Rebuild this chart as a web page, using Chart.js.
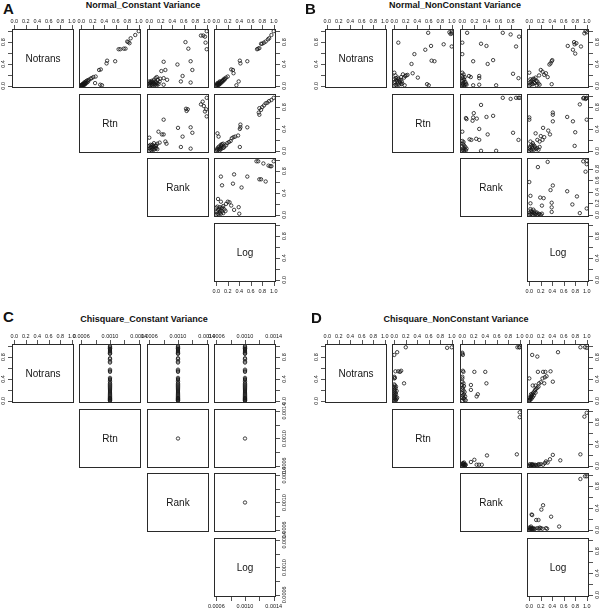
<!DOCTYPE html>
<html lang="en">

<head>
    <meta charset="UTF-8">
    <title>Pairs plots</title>
    <script src="https://cdn.jsdelivr.net/npm/chart.js"></script>
    <style>
        body {
            margin: 0;
            background: #fff;
        }

        #figure {
            position: relative;
            width: 600px;
            height: 609px;
            overflow: hidden;
            font-family: "Liberation Sans", Arial, sans-serif;
            color: #111;
        }

        #figure canvas {
            position: absolute;
        }

        .letter {
            position: absolute;
            font-weight: bold;
            font-size: 15px;
            line-height: 15px;
        }

        .title {
            position: absolute;
            font-weight: bold;
            font-size: 9px;
            line-height: 10px;
            white-space: nowrap;
            transform: translateX(-50%);
        }
    </style>
</head>

<body>
    <div id="figure"></div>

    <script>
        // variable names on the diagonal
        const varNames = ['Notrans', 'Rtn', 'Rank', 'Log'];

        // tick values / labels
        const unitTicks = [0, 0.2, 0.4, 0.6, 0.8, 1.0];
        const unitYLabels = [0, 0.4, 0.8];
        const rankBTicks = [0, 0.2, 0.4, 0.6, 0.8];
        const tinyTicks = [0.0006, 0.0008, 0.0010, 0.0012, 0.0014];
        const tinyLabels = [0.0006, 0.0010, 0.0014];

        // A: Normal_Constant Variance  (points are [column variable, row variable])
        const aNotransRtn = [[1.0, 1.0], [0.94, 0.93], [0.86, 0.87], [0.82, 0.80], [0.84, 0.78], [0.80, 0.81], [0.77, 0.68], [0.74, 0.68], [0.68, 0.67], [0.65, 0.67],
            [0.59, 0.45], [0.45, 0.46], [0.44, 0.41], [0.34, 0.30], [0.31, 0.29], [0.25, 0.17], [0.21, 0.16], [0.18, 0.14], [0.16, 0.13], [0.13, 0.11], [0.11, 0.10],
            [0.09, 0.09], [0.07, 0.07], [0.06, 0.05], [0.05, 0.06], [0.04, 0.04], [0.03, 0.03], [0.02, 0.03], [0.02, 0.01], [0.01, 0.02], [0.0, 0.0], [0.01, 0.0],
            [0.03, 0.01], [0.04, 0.02], [0.05, 0.03], [0.06, 0.02], [0.07, 0.04], [0.08, 0.05], [0.10, 0.06], [0.12, 0.08], [0.0, 0.01], [0.015, 0.005],
            [0.24, 0.05], [0.33, 0.02], [0.36, 0.01]];
        const aNotransRank = [[1.0, 1.0], [0.90, 0.92], [0.94, 0.92], [0.97, 0.90], [0.98, 0.79], [1.0, 0.67],
            [0.63, 0.80], [0.68, 0.68], [0.72, 0.45], [0.75, 0.29], [0.58, 0.18], [0.55, 0.08], [0.72, 0.06], [0.49, 0.39],
            [0.25, 0.44], [0.28, 0.29], [0.21, 0.27], [0.25, 0.14], [0.31, 0.11], [0.25, 0.02],
            [0.11, 0.14], [0.08, 0.11], [0.15, 0.11], [0.18, 0.08], [0.13, 0.16], [0.19, 0.13],
            [0.0, 0.0], [0.02, 0.01], [0.04, 0.02], [0.06, 0.01], [0.08, 0.03], [0.10, 0.02], [0.12, 0.04], [0.01, 0.05], [0.03, 0.06], [0.05, 0.04],
            [0.07, 0.06], [0.09, 0.05], [0.0, 0.03], [0.02, 0.07], [0.11, 0.07], [0.14, 0.05], [0.04, 0.09], [0.06, 0.08], [0.13, 0.01], [0.16, 0.03], [0.0, 0.08]];
        const aNotransLog = [[1.0, 1.0], [0.96, 0.93], [0.92, 0.87], [0.90, 0.85], [0.86, 0.81], [0.83, 0.79], [0.80, 0.77], [0.78, 0.77], [0.75, 0.69], [0.73, 0.68], [0.71, 0.67],
            [0.54, 0.45], [0.41, 0.46], [0.42, 0.41], [0.29, 0.29], [0.26, 0.30], [0.30, 0.23],
            [0.20, 0.17], [0.17, 0.15], [0.14, 0.13], [0.12, 0.11], [0.10, 0.09], [0.08, 0.07], [0.06, 0.05], [0.05, 0.06], [0.04, 0.03], [0.03, 0.04], [0.02, 0.02],
            [0.01, 0.01], [0.0, 0.0], [0.01, 0.03], [0.03, 0.01], [0.05, 0.02], [0.07, 0.04], [0.09, 0.06], [0.11, 0.08], [0.13, 0.10], [0.15, 0.12], [0.06, 0.08], [0.02, 0.05],
            [0.39, 0.08], [0.35, 0.01]];
        const aRtnRank = [[1.0, 0.97], [0.93, 0.90], [0.90, 0.85], [0.95, 0.82], [0.99, 0.76], [1.0, 0.63], [0.97, 0.72],
            [0.64, 0.77], [0.67, 0.76], [0.65, 0.73],
            [0.25, 0.57], [0.50, 0.42], [0.72, 0.43], [0.75, 0.33], [0.58, 0.26], [0.55, 0.07], [0.72, 0.04],
            [0.16, 0.35], [0.22, 0.30], [0.25, 0.30], [0.28, 0.17], [0.30, 0.13], [0.18, 0.15], [0.14, 0.13], [0.08, 0.14], [0.12, 0.10], [0.0, 0.24],
            [0.0, 0.0], [0.02, 0.02], [0.04, 0.01], [0.06, 0.03], [0.08, 0.02], [0.10, 0.04], [0.01, 0.05], [0.03, 0.07], [0.05, 0.06], [0.07, 0.08],
            [0.09, 0.07], [0.0, 0.09], [0.12, 0.05], [0.14, 0.03], [0.02, 0.11], [0.04, 0.10], [0.06, 0.11], [0.11, 0.09]];
        const aRtnLog = [[1.0, 0.97], [0.96, 0.93], [0.92, 0.91], [0.89, 0.88], [0.86, 0.87], [0.83, 0.83], [0.80, 0.80], [0.75, 0.78], [0.78, 0.75], [0.74, 0.70], [0.75, 0.66],
            [0.54, 0.43], [0.41, 0.40], [0.42, 0.43], [0.42, 0.48],
            [0.38, 0.28], [0.33, 0.26], [0.30, 0.25], [0.27, 0.23], [0.25, 0.18], [0.22, 0.16], [0.19, 0.14], [0.17, 0.10], [0.14, 0.08], [0.11, 0.05], [0.08, 0.03],
            [0.02, 0.32], [0.04, 0.26], [0.41, 0.07],
            [0.0, 0.0], [0.02, 0.01], [0.04, 0.03], [0.06, 0.04], [0.03, 0.06], [0.05, 0.08], [0.07, 0.06], [0.09, 0.09], [0.01, 0.03], [0.10, 0.12],
            [0.12, 0.13], [0.08, 0.11], [0.06, 0.01], [0.13, 0.06]];
        const aRankLog = [[0.70, 0.98], [0.73, 0.98], [0.82, 0.94], [0.91, 0.90], [0.94, 0.89], [0.96, 0.89], [1.0, 0.98],
            [0.75, 0.65], [0.78, 0.65], [0.86, 0.61],
            [0.31, 0.74], [0.54, 0.70], [0.08, 0.70], [0.10, 0.54], [0.29, 0.57], [0.44, 0.50],
            [0.03, 0.29], [0.08, 0.24], [0.20, 0.24], [0.23, 0.23], [0.26, 0.17], [0.17, 0.20], [0.12, 0.16],
            [0.39, 0.14], [0.40, 0.02], [0.31, 0.09],
            [0.0, 0.0], [0.02, 0.02], [0.04, 0.01], [0.06, 0.04], [0.08, 0.02], [0.10, 0.06], [0.12, 0.03], [0.01, 0.06], [0.03, 0.09], [0.05, 0.11],
            [0.07, 0.08], [0.09, 0.12], [0.0, 0.13], [0.14, 0.10], [0.16, 0.07], [0.02, 0.15], [0.06, 0.14], [0.11, 0.13]];

        // B: Normal_NonConstant Variance
        const bNotransRtn = [[1.0, 0.99], [1.0, 0.96], [0.98, 0.95], [0.96, 0.98], [0.59, 0.97], [0.07, 0.79], [1.0, 0.72], [0.86, 0.76], [0.64, 0.73], [0.54, 0.66],
            [0.35, 0.58], [0.65, 0.46], [0.70, 0.45], [0.30, 0.40], [0.32, 0.23], [0.41, 0.15], [0.57, 0.03], [0.60, 0.01], [0.14, 0.04], [0.18, 0.01],
            [0.0, 0.24], [0.15, 0.21], [0.19, 0.18], [0.21, 0.19], [0.23, 0.20], [0.17, 0.15], [0.12, 0.16], [0.02, 0.19],
            [0.0, 0.0], [0.02, 0.02], [0.04, 0.01], [0.06, 0.04], [0.08, 0.02], [0.10, 0.06], [0.01, 0.07], [0.03, 0.10], [0.05, 0.08], [0.07, 0.12],
            [0.09, 0.09], [0.11, 0.11], [0.0, 0.12], [0.13, 0.08], [0.12, 0.03], [0.03, 0.14], [0.06, 0.15]];
        const bNotransRank = [[0.08, 0.97], [0.67, 0.97], [0.80, 0.94], [0.94, 0.90], [0.0, 0.79], [0.31, 0.77], [0.40, 0.73], [0.89, 0.72], [0.0, 0.58],
            [0.18, 0.45], [0.51, 0.47], [0.42, 0.40], [0.93, 0.14], [0.84, 0.22], [0.11, 0.18], [0.14, 0.16], [0.28, 0.18], [0.28, 0.14],
            [0.18, 0.01], [0.56, 0.01], [0.28, 0.02],
            [0.0, 0.0], [0.01, 0.03], [0.02, 0.06], [0.0, 0.09], [0.03, 0.12], [0.01, 0.15], [0.0, 0.18], [0.02, 0.21], [0.04, 0.02], [0.05, 0.07],
            [0.03, 0.0], [0.06, 0.04], [0.0, 0.24], [0.02, 0.10], [0.04, 0.16], [0.01, 0.01], [0.07, 0.02]];
        const bNotransLog = [[1.0, 0.98], [0.98, 1.0], [0.96, 0.96], [0.78, 0.80], [0.82, 0.78], [0.79, 0.76], [0.90, 0.72], [0.67, 0.73], [0.76, 0.66], [0.80, 0.59],
            [0.39, 0.45], [0.40, 0.47], [0.37, 0.41], [0.35, 0.39],
            [0.0, 0.24], [0.20, 0.29], [0.23, 0.26], [0.29, 0.23], [0.26, 0.20], [0.32, 0.16], [0.17, 0.19], [0.39, 0.03],
            [0.0, 0.0], [0.02, 0.02], [0.04, 0.04], [0.06, 0.03], [0.08, 0.06], [0.10, 0.05], [0.12, 0.09], [0.14, 0.08], [0.01, 0.06], [0.03, 0.08],
            [0.05, 0.11], [0.07, 0.13], [0.09, 0.12], [0.11, 0.15], [0.13, 0.01], [0.16, 0.04], [0.18, 0.02], [0.02, 0.12]];
        const bRtnRank = [[0.67, 0.97], [0.80, 0.95], [0.89, 0.97], [0.95, 0.97], [0.93, 0.97], [0.31, 0.84],
            [0.06, 0.60], [0.07, 0.58], [0.18, 0.61], [0.17, 0.55], [0.24, 0.59], [0.19, 0.69], [0.40, 0.62], [0.51, 0.64],
            [0.0, 0.35], [0.28, 0.40], [0.12, 0.21], [0.15, 0.20], [0.23, 0.22], [0.42, 0.30], [0.84, 0.33], [0.28, 0.20], [0.93, 0.20], [0.31, 0.0], [0.56, 0.0],
            [0.0, 0.0], [0.01, 0.02], [0.02, 0.05], [0.0, 0.08], [0.03, 0.10], [0.01, 0.13], [0.04, 0.03], [0.05, 0.07], [0.06, 0.01], [0.02, 0.16],
            [0.07, 0.04], [0.03, 0.0], [0.0, 0.18]];
        const bRtnLog = [[0.95, 0.97], [0.98, 0.95], [1.0, 0.97], [0.99, 0.96], [0.94, 0.96], [0.88, 0.85],
            [0.0, 0.61], [0.0, 0.57], [0.41, 0.70], [0.41, 0.66], [0.41, 0.54], [0.66, 0.62], [0.76, 0.54], [0.80, 0.34], [1.0, 0.57],
            [0.24, 0.42], [0.36, 0.30], [0.33, 0.37], [0.79, 0.09],
            [0.11, 0.32], [0.14, 0.20], [0.18, 0.17], [0.23, 0.20], [0.06, 0.14], [0.02, 0.17], [0.20, 0.27], [0.26, 0.25],
            [0.0, 0.0], [0.02, 0.02], [0.04, 0.01], [0.06, 0.04], [0.08, 0.02], [0.10, 0.06], [0.12, 0.03], [0.01, 0.07], [0.03, 0.10], [0.05, 0.08],
            [0.07, 0.11], [0.09, 0.09], [0.14, 0.05], [0.16, 0.02], [0.18, 0.07], [0.0, 0.04]];
        const bRankLog = [[0.32, 0.92], [1.0, 0.88], [0.98, 0.75], [0.94, 0.93], [1.0, 0.94], [0.15, 0.83], [0.0, 0.57], [0.41, 0.51], [0.37, 0.43], [0.66, 0.41],
            [0.83, 0.32], [0.02, 0.33], [0.19, 0.30], [0.25, 0.29], [0.39, 0.21], [0.39, 0.13], [0.22, 0.16], [0.75, 0.18], [1.0, 0.11], [0.88, 0.03],
            [0.39, 0.05], [0.02, 0.20], [0.02, 0.10],
            [0.0, 0.0], [0.02, 0.01], [0.04, 0.02], [0.06, 0.0], [0.08, 0.03], [0.10, 0.01], [0.12, 0.02], [0.14, 0.0], [0.16, 0.02], [0.18, 0.01],
            [0.20, 0.0], [0.22, 0.02], [0.05, 0.05], [0.09, 0.06], [0.13, 0.04], [0.03, 0.07], [0.07, 0.09], [0.01, 0.04]];

        // C: Chisquare_Constant Variance (Rtn, Rank and Log are constant)
        const cConst = 0.0010;
        const cNotrans = [1.0, 0.98, 0.96, 0.95, 0.93, 0.91, 0.89, 0.87, 0.86, 0.78, 0.76, 0.72, 0.70, 0.57, 0.55, 0.53,
            0.42, 0.40, 0.38, 0.35, 0.32, 0.30, 0.28, 0.26, 0.24, 0.22, 0.20, 0.18, 0.16, 0.14, 0.12, 0.10,
            0.08, 0.06, 0.05, 0.04, 0.03, 0.02, 0.01, 0.0];

        // D: Chisquare_NonConstant Variance
        const dNotransRtn = [[0.20, 0.98], [0.92, 0.97], [1.0, 0.98], [0.05, 0.89], [0.0, 0.84], [0.02, 0.54], [0.07, 0.54], [0.10, 0.53], [0.12, 0.55],
            [0.0, 0.44], [0.0, 0.41], [0.01, 0.42], [0.17, 0.32],
            [0.0, 0.30], [0.01, 0.28], [0.0, 0.25], [0.02, 0.23], [0.0, 0.21], [0.01, 0.19], [0.0, 0.17], [0.02, 0.15], [0.0, 0.13], [0.01, 0.11],
            [0.0, 0.09], [0.02, 0.07], [0.0, 0.05], [0.01, 0.03], [0.0, 0.01], [0.03, 0.02], [0.02, 0.0], [0.04, 0.04], [0.03, 0.12], [0.04, 0.18],
            [0.03, 0.26], [0.05, 0.06]];
        const dNotransRank = [[0.96, 0.98], [0.99, 0.98], [1.0, 0.98], [0.0, 0.88], [0.01, 0.84], [0.0, 0.86], [0.02, 0.53], [0.01, 0.55], [0.21, 0.53],
            [0.40, 0.53], [0.42, 0.32], [0.15, 0.29], [0.15, 0.20], [0.27, 0.12], [0.25, 0.08], [0.0, 0.44], [0.0, 0.41],
            [0.0, 0.35], [0.02, 0.32], [0.0, 0.29], [0.03, 0.27], [0.01, 0.24], [0.0, 0.21], [0.02, 0.19], [0.04, 0.16], [0.0, 0.14], [0.03, 0.12],
            [0.01, 0.10], [0.05, 0.08], [0.0, 0.06], [0.02, 0.04], [0.04, 0.02], [0.0, 0.0], [0.06, 0.01], [0.03, 0.05]];
        const dNotransLog = [[0.89, 0.98], [0.97, 0.98], [1.0, 0.97], [0.05, 0.84], [0.14, 0.81], [0.50, 0.89], [0.0, 0.41], [0.15, 0.53], [0.24, 0.53],
            [0.28, 0.53], [0.37, 0.54], [0.30, 0.45], [0.27, 0.43], [0.23, 0.41], [0.20, 0.34], [0.17, 0.32], [0.41, 0.35], [0.26, 0.32], [0.11, 0.28], [0.06, 0.28],
            [0.16, 0.26], [0.14, 0.24], [0.12, 0.22], [0.10, 0.20], [0.09, 0.17], [0.07, 0.15], [0.06, 0.13], [0.05, 0.11], [0.04, 0.09], [0.03, 0.07],
            [0.02, 0.05], [0.01, 0.03], [0.0, 0.01], [0.0, 0.0], [0.02, 0.02], [0.04, 0.04], [0.06, 0.07], [0.08, 0.10], [0.03, 0.12], [0.0, 0.06], [0.11, 0.15]];
        const dRtnRank = [[1.0, 0.98], [1.0, 0.89], [0.95, 0.21], [0.43, 0.19], [0.21, 0.11], [0.15, 0.07], [0.25, 0.02], [0.29, 0.02], [0.34, 0.02],
            [0.0, 0.0], [0.01, 0.02], [0.02, 0.04], [0.03, 0.06], [0.04, 0.03], [0.05, 0.01], [0.02, 0.0], [0.03, 0.02], [0.01, 0.05], [0.04, 0.0],
            [0.06, 0.02], [0.0, 0.03]];
        const dRtnLog = [[1.0, 0.97], [0.96, 0.90], [0.89, 0.21], [0.41, 0.20], [0.54, 0.10], [0.29, 0.08], [0.27, 0.05], [0.24, 0.02], [0.36, 0.12],
            [0.32, 0.06], [0.17, 0.02], [0.20, 0.03], [0.14, 0.01], [0.16, 0.03], [0.10, 0.02],
            [0.0, 0.0], [0.02, 0.01], [0.04, 0.02], [0.06, 0.01], [0.08, 0.0], [0.01, 0.03], [0.03, 0.0], [0.05, 0.03], [0.07, 0.02], [0.12, 0.01]];
        const dRankLog = [[1.0, 0.98], [0.97, 0.98], [0.89, 0.93], [0.24, 0.45], [0.21, 0.37], [0.04, 0.28], [0.05, 0.27], [0.12, 0.18], [0.16, 0.18],
            [0.38, 0.24], [0.52, 0.06],
            [0.14, 0.03], [0.17, 0.02], [0.20, 0.03], [0.23, 0.02], [0.29, 0.03], [0.31, 0.02], [0.18, 0.04],
            [0.0, 0.0], [0.01, 0.02], [0.02, 0.04], [0.03, 0.06], [0.04, 0.03], [0.05, 0.01], [0.02, 0.0], [0.03, 0.02], [0.06, 0.02], [0.08, 0.01],
            [0.0, 0.04], [0.07, 0.03], [0.1, 0.02]];

        // axis descriptions
        const unitAxis = { range: [0, 1], ticks: unitTicks, xLabels: unitTicks, yLabels: unitYLabels, digits: 1 };
        const rankBAxis = { range: [0, 0.95], ticks: rankBTicks, xLabels: rankBTicks, yLabels: rankBTicks, digits: 1 };
        const tinyAxis = { range: [0.0006, 0.0014], ticks: tinyTicks, xLabels: tinyLabels, yLabels: tinyLabels, digits: 4 };

        const cTop = cNotrans.map(v => [cConst, v]);
        const cSingle = [[cConst, cConst]];

        const figures = [
            {
                letter: 'A', title: 'Normal_Constant Variance', ox: 12, oy: 29, letterAt: [3, 1], titleAt: [143, 0],
                axes: [unitAxis, unitAxis, unitAxis, unitAxis],
                panels: { '01': aNotransRtn, '02': aNotransRank, '03': aNotransLog, '12': aRtnRank, '13': aRtnLog, '23': aRankLog }
            },
            {
                letter: 'B', title: 'Normal_NonConstant Variance', ox: 325, oy: 29, letterAt: [305, 1], titleAt: [455, 0],
                axes: [unitAxis, unitAxis, rankBAxis, unitAxis],
                panels: { '01': bNotransRtn, '02': bNotransRank, '03': bNotransLog, '12': bRtnRank, '13': bRtnLog, '23': bRankLog }
            },
            {
                letter: 'C', title: 'Chisquare_Constant Variance', ox: 12, oy: 344, letterAt: [3, 309], titleAt: [144, 314],
                axes: [unitAxis, tinyAxis, tinyAxis, tinyAxis],
                panels: { '01': cTop, '02': cTop, '03': cTop, '12': cSingle, '13': cSingle, '23': cSingle }
            },
            {
                letter: 'D', title: 'Chisquare_NonConstant Variance', ox: 325, oy: 344, letterAt: [311, 310], titleAt: [456, 314],
                axes: [unitAxis, unitAxis, unitAxis, unitAxis],
                panels: { '01': dNotransRtn, '02': dNotransRank, '03': dNotransLog, '12': dRtnRank, '13': dRtnLog, '23': dRankLog }
            }
        ];

        const INK = '#151515';
        const M = 18; // canvas margin around each panel box
        const BOX_W = 62, BOX_H = 59, COL_STEP = 67.3, ROW_STEP = 64.7;
        const fig = document.getElementById('figure');

        function addText(cls, text, x, y) {
            const d = document.createElement('div');
            d.className = cls;
            d.textContent = text;
            d.style.left = x + 'px';
            d.style.top = y + 'px';
            fig.appendChild(d);
        }

        // R's pairs() pads every range by 4%
        function padRange(r) {
            const d = (r[1] - r[0]) * 0.04;
            return [r[0] - d, r[1] + d];
        }

        // border, axes and diagonal label, drawn over the chart
        function framePlugin(p) {
            return {
                id: 'frame',
                afterDraw(chart) {
                    const ctx = chart.ctx, a = chart.chartArea;
                    const sx = chart.scales.x, sy = chart.scales.y;
                    ctx.save();
                    ctx.strokeStyle = '#2a2a2a';
                    ctx.lineWidth = 1;
                    ctx.strokeRect(a.left + 0.5, a.top + 0.5, a.right - a.left - 1, a.bottom - a.top - 1);

                    // tick marks
                    ctx.lineWidth = 0.8;
                    ctx.beginPath();
                    if (p.sides.top || p.sides.bottom) {
                        p.xAxis.ticks.forEach(v => {
                            const x = Math.round(sx.getPixelForValue(v)) + 0.5;
                            if (p.sides.top) { ctx.moveTo(x, a.top); ctx.lineTo(x, a.top - 4); }
                            if (p.sides.bottom) { ctx.moveTo(x, a.bottom); ctx.lineTo(x, a.bottom + 4); }
                        });
                    }
                    if (p.sides.left || p.sides.right) {
                        p.yAxis.ticks.forEach(v => {
                            const y = Math.round(sy.getPixelForValue(v)) + 0.5;
                            if (p.sides.left) { ctx.moveTo(a.left, y); ctx.lineTo(a.left - 4, y); }
                            if (p.sides.right) { ctx.moveTo(a.right, y); ctx.lineTo(a.right + 4, y); }
                        });
                    }
                    ctx.stroke();

                    // tick labels
                    ctx.fillStyle = INK;
                    ctx.font = '5.5px "Liberation Sans", Arial, sans-serif';
                    ctx.textAlign = 'center';
                    ctx.textBaseline = 'middle';
                    p.xAxis.xLabels.forEach(v => {
                        const x = sx.getPixelForValue(v);
                        const t = v.toFixed(p.xAxis.digits);
                        if (p.sides.top) ctx.fillText(t, x, a.top - 8);
                        if (p.sides.bottom) ctx.fillText(t, x, a.bottom + 9);
                    });
                    p.yAxis.yLabels.forEach(v => {
                        const y = sy.getPixelForValue(v);
                        const t = v.toFixed(p.yAxis.digits);
                        [['left', a.left - 9], ['right', a.right + 8]].forEach(([side, x]) => {
                            if (!p.sides[side]) return;
                            ctx.save();
                            ctx.translate(x, y);
                            ctx.rotate(-Math.PI / 2);
                            ctx.fillText(t, 0, 0);
                            ctx.restore();
                        });
                    });

                    if (p.label) {
                        ctx.font = '10px "Liberation Sans", Arial, sans-serif';
                        ctx.fillText(p.label, (a.left + a.right) / 2, (a.top + a.bottom) / 2 + 1);
                    }
                    ctx.restore();
                }
            };
        }

        function makePanel(p) {
            const canvas = document.createElement('canvas');
            canvas.width = BOX_W + 2 * M;
            canvas.height = BOX_H + 2 * M;
            canvas.style.left = (p.left - M) + 'px';
            canvas.style.top = (p.top - M) + 'px';
            fig.appendChild(canvas);
            const xr = padRange(p.xAxis.range), yr = padRange(p.yAxis.range);

            new Chart(canvas, {
                type: 'scatter',
                data: {
                    datasets: [{
                        data: p.points.map(q => ({ x: q[0], y: q[1] })),
                        pointRadius: 1.7,
                        pointHoverRadius: 1.7,
                        pointBorderWidth: 0.8,
                        borderColor: INK,
                        backgroundColor: 'rgba(0,0,0,0)'
                    }]
                },
                options: {
                    responsive: false,
                    animation: false,
                    events: [],
                    layout: { padding: M },
                    plugins: { legend: { display: false }, tooltip: { enabled: false } },
                    scales: {
                        x: { type: 'linear', display: false, min: xr[0], max: xr[1] },
                        y: { type: 'linear', display: false, min: yr[0], max: yr[1] }
                    }
                },
                plugins: [framePlugin(p)]
            });
        }

        figures.forEach(f => {
            addText('letter', f.letter, f.letterAt[0], f.letterAt[1]);
            addText('title', f.title, f.titleAt[0], f.titleAt[1]);
            for (let i = 0; i < 4; i++) {
                for (let j = i; j < 4; j++) {
                    makePanel({
                        left: Math.round(f.ox + j * COL_STEP),
                        top: Math.round(f.oy + i * ROW_STEP),
                        xAxis: f.axes[j],
                        yAxis: f.axes[i],
                        points: i === j ? [] : f.panels['' + i + j],
                        label: i === j ? varNames[i] : null,
                        sides: { top: i === 0, left: i === 0 && j === 0, right: j === 3, bottom: i === 3 && j === 3 }
                    });
                }
            }
        });
    </script>
</body>

</html>
